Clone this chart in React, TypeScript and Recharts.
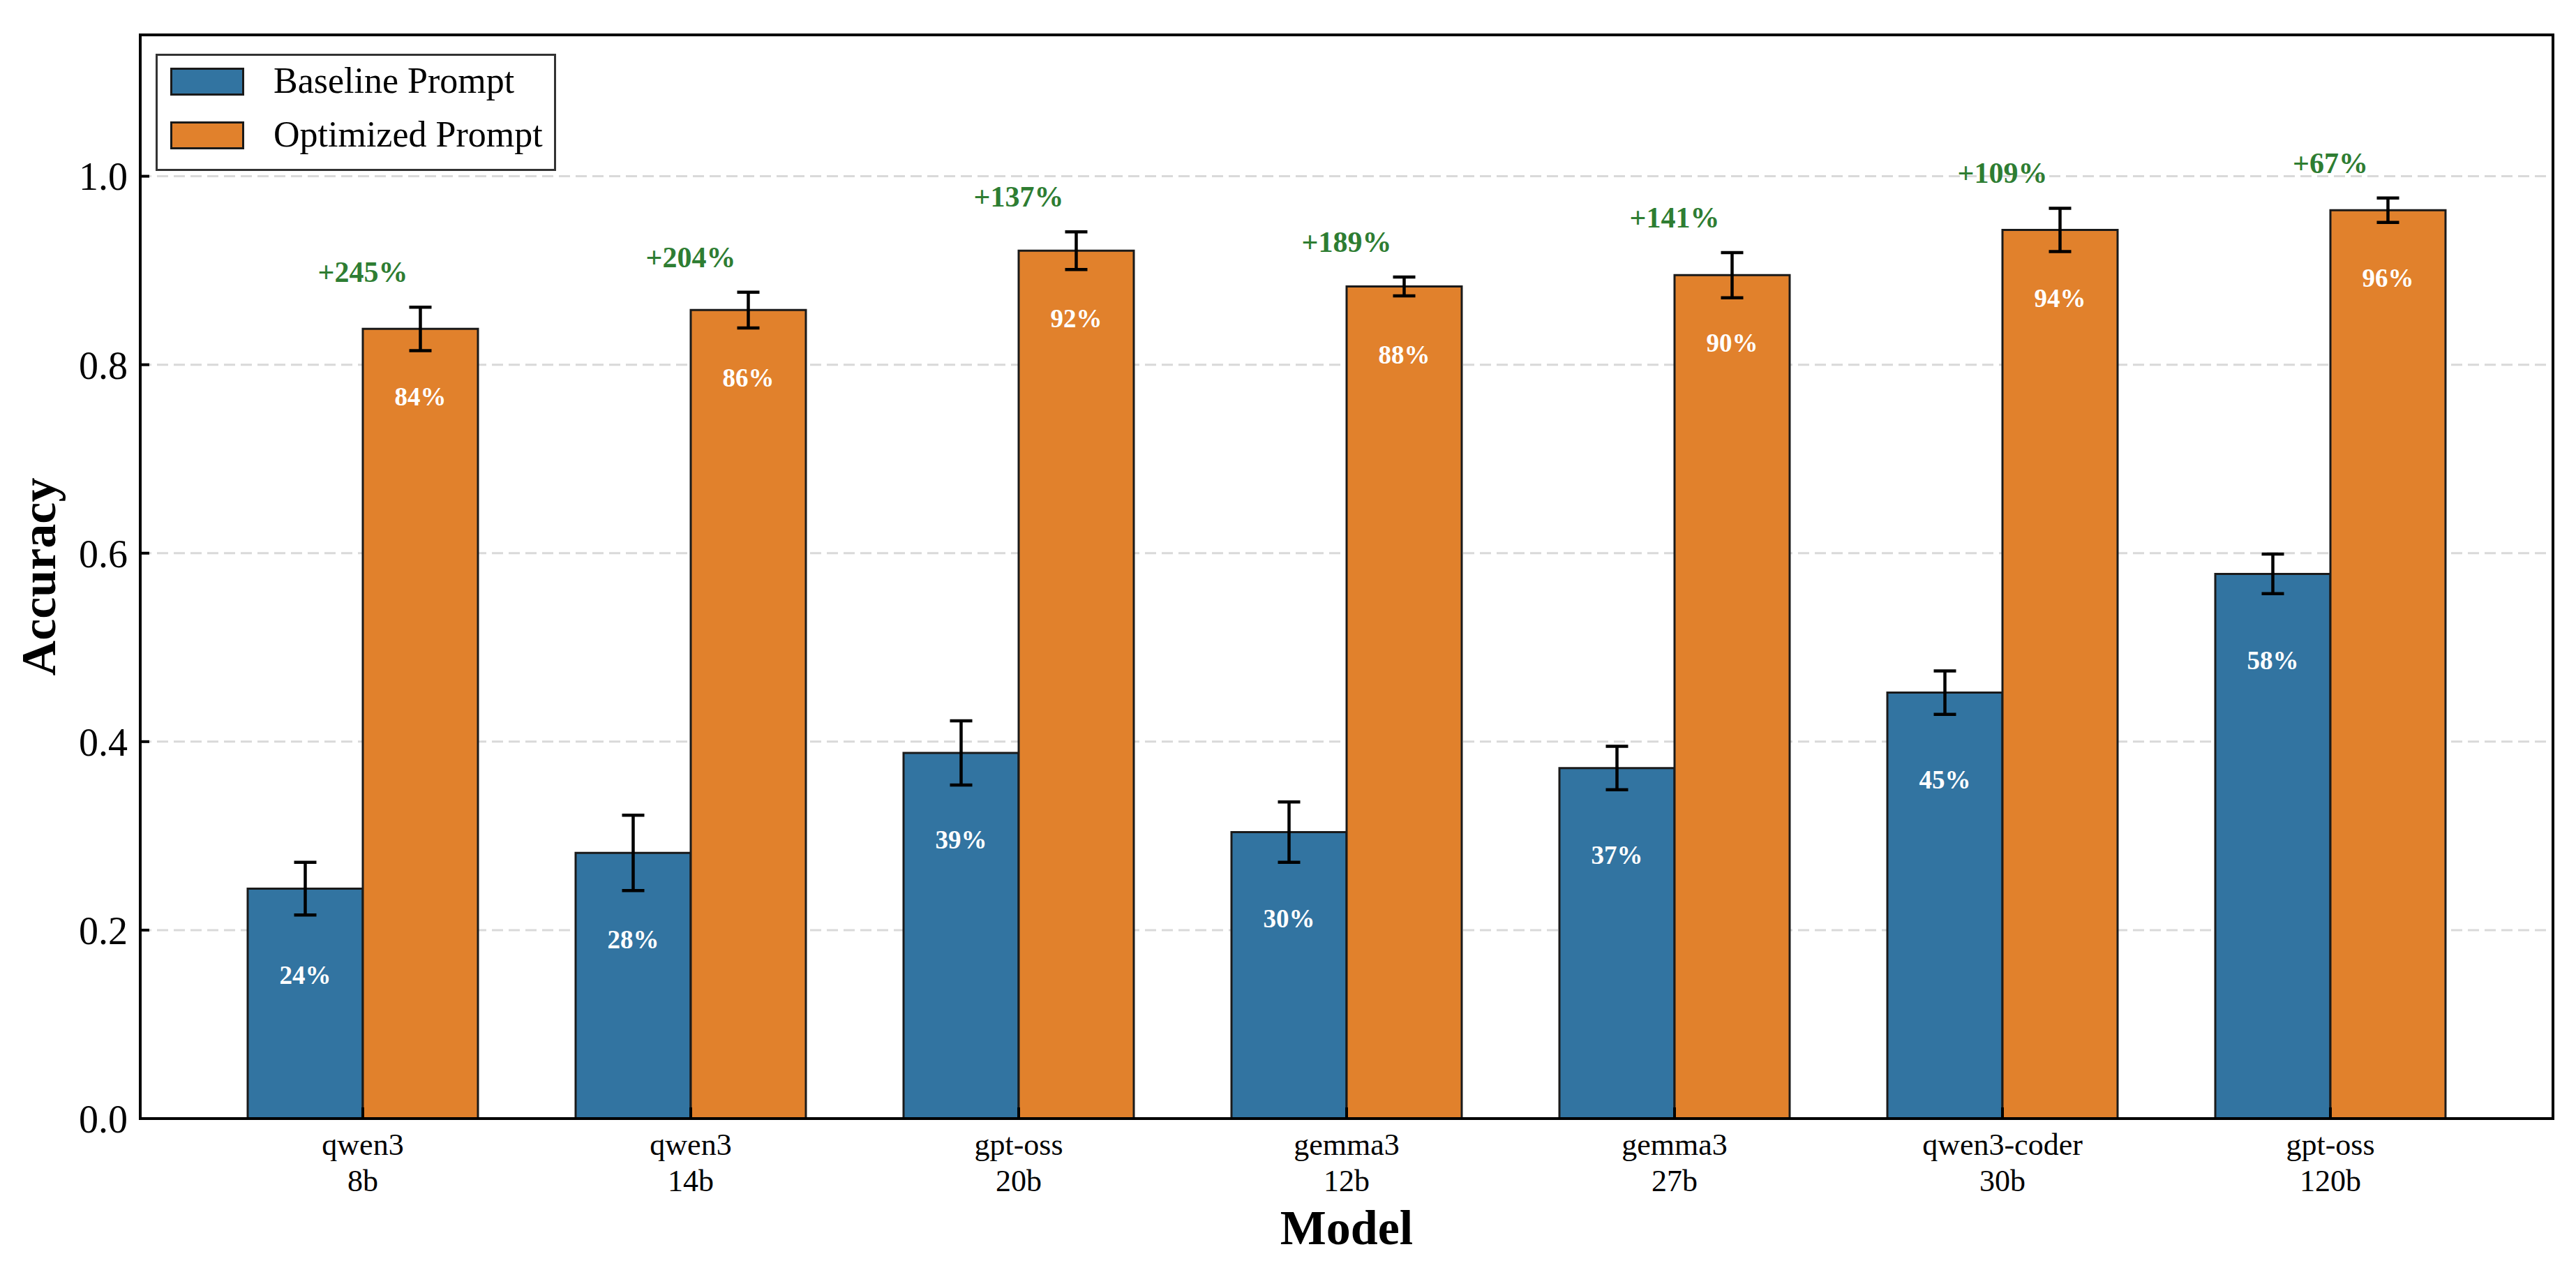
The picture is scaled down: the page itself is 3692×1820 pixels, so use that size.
import React from 'react';
import {
  BarChart,
  Bar,
  XAxis,
  YAxis,
  CartesianGrid,
  ErrorBar,
  LabelList,
  Legend,
} from 'recharts';

const categories = [
  'qwen3\n8b',
  'qwen3\n14b',
  'gpt-oss\n20b',
  'gemma3\n12b',
  'gemma3\n27b',
  'qwen3-coder\n30b',
  'gpt-oss\n120b',
];
const baseline = [0.244, 0.282, 0.388, 0.304, 0.372, 0.452, 0.578];
const baselineErr = [0.028, 0.04, 0.034, 0.032, 0.023, 0.023, 0.021];
const optimized = [0.838, 0.858, 0.921, 0.883, 0.895, 0.943, 0.964];
const optimizedErr = [0.023, 0.019, 0.02, 0.01, 0.024, 0.023, 0.013];
const gains = ['+245%', '+204%', '+137%', '+189%', '+141%', '+109%', '+67%'];
const yTicks = [0, 0.2, 0.4, 0.6, 0.8, 1.0];

const FONT = "'Times New Roman', 'Liberation Serif', Times, serif";
const BLUE = '#3274a1';
const ORANGE = '#e1812c';
const GREEN = '#2e7d32';
const EDGE = '#1a1a1a';

const data = categories.map((name, i) => ({
  name,
  baseline: baseline[i],
  baselineErr: baselineErr[i],
  optimized: optimized[i],
  optimizedErr: optimizedErr[i],
  gain: gains[i],
}));

const box = (props: any) => {
  const vb = props.viewBox || {};
  return {
    x: props.x ?? vb.x,
    y: props.y ?? vb.y,
    width: props.width ?? vb.width,
    height: props.height ?? vb.height,
  };
};

// white percentage inside the bar, a fixed distance under its top
const valueLabel = (offset: number) => (props: any) => {
  const { x, y, width } = box(props);
  return (
    <text
      x={x + width / 2}
      y={y + offset}
      textAnchor="middle"
      fill="#fff"
      fontWeight="bold"
      fontSize={37}
      fontFamily={FONT}
    >
      {`${Math.round(Number(props.value) * 100)}%`}
    </text>
  );
};

// green gain label over each pair, above the optimized error bar
const gainLabel = (props: any) => {
  const { x, y, height } = box(props);
  const i = props.index;
  const pxPerUnit = height / optimized[i];
  const errTop = y - optimizedErr[i] * pxPerUnit;
  return (
    <text
      x={x}
      y={errTop - 36}
      textAnchor="middle"
      fill={GREEN}
      fontWeight="bold"
      fontSize={42}
      fontFamily={FONT}
    >
      {props.value}
    </text>
  );
};

const CategoryTick = (props: any) => {
  const { x, y, payload } = props;
  const lines = String(payload.value).split('\n');
  return (
    <text x={x} y={y} textAnchor="middle" fill="#000" fontSize={44} fontFamily={FONT}>
      {lines.map((line, i) => (
        <tspan key={i} x={x} dy={52}>
          {line}
        </tspan>
      ))}
    </text>
  );
};

const LegendBox = () => {
  const items = [
    { label: 'Baseline Prompt', color: BLUE, top: 20 },
    { label: 'Optimized Prompt', color: ORANGE, top: 97 },
  ];
  return (
    <div
      style={{
        position: 'relative',
        width: 574,
        height: 168,
        boxSizing: 'border-box',
        border: '3px solid #333',
        background: '#fff',
        fontFamily: FONT,
      }}
    >
      {items.map((it) => (
        <div key={it.label}>
          <div
            style={{
              position: 'absolute',
              left: 18,
              top: it.top - 3,
              width: 106,
              height: 40,
              boxSizing: 'border-box',
              background: it.color,
              border: `3px solid ${EDGE}`,
            }}
          />
          <div
            style={{
              position: 'absolute',
              left: 166,
              top: it.top - 14,
              fontSize: 52,
              lineHeight: '60px',
              color: '#000',
              whiteSpace: 'nowrap',
            }}
          >
            {it.label}
          </div>
        </div>
      ))}
    </div>
  );
};

const axisLine = { stroke: '#000', strokeWidth: 4, strokeLinecap: 'square' as const };
const tickLine = { stroke: '#000', strokeWidth: 4 };

const App: React.FC = () => {
  return (
    <div style={{ position: 'absolute', left: 0, top: 0, background: '#fff' }}>
      <BarChart
        width={3692}
        height={1820}
        data={data}
        margin={{ top: 49, right: 32, bottom: 97, left: 81 }}
        barGap={0}
        style={{ fontFamily: FONT }}
      >
        <CartesianGrid
          vertical={false}
          stroke="#d9d9d9"
          strokeWidth={3}
          strokeDasharray="16 8"
        />
        <XAxis
          dataKey="name"
          height={120}
          padding={{ left: 84, right: 84 }}
          axisLine={axisLine}
          tickLine={tickLine}
          tickSize={-16}
          tickMargin={16}
          interval={0}
          tick={<CategoryTick />}
          label={(p: any) => {
            const vb = p.viewBox;
            return (
              <text
                x={vb.x + vb.width / 2}
                y={vb.y + 180}
                textAnchor="middle"
                fontWeight="bold"
                fontSize={70}
                fontFamily={FONT}
                fill="#000"
              >
                Model
              </text>
            );
          }}
        />
        <XAxis
          xAxisId="top"
          dataKey="name"
          orientation="top"
          height={1}
          padding={{ left: 84, right: 84 }}
          axisLine={axisLine}
          tickLine={tickLine}
          tickSize={-16}
          tick={false}
          interval={0}
        />
        <YAxis
          width={120}
          domain={[0, 1.15]}
          ticks={yTicks}
          allowDataOverflow
          axisLine={axisLine}
          tickLine={tickLine}
          tickSize={-13}
          tickMargin={31}
          tickFormatter={(v: number) => v.toFixed(1)}
          tick={{ fill: '#000', fontSize: 56, fontFamily: FONT }}
          label={(p: any) => {
            const vb = p.viewBox;
            return (
              <text
                transform={`translate(${vb.x - 2}, ${vb.y + vb.height / 2}) rotate(-90)`}
                textAnchor="middle"
                fontWeight="bold"
                fontSize={70}
                fontFamily={FONT}
                fill="#000"
              >
                Accuracy
              </text>
            );
          }}
        />
        <YAxis
          yAxisId="right"
          orientation="right"
          width={1}
          domain={[0, 1.15]}
          ticks={yTicks}
          allowDataOverflow
          axisLine={axisLine}
          tickLine={tickLine}
          tickSize={-13}
          tick={false}
        />
        <Legend
          layout="vertical"
          align="center"
          verticalAlign="middle"
          content={<LegendBox />}
          wrapperStyle={{ left: 223, top: 77, width: 574, height: 168 }}
        />
        <Bar
          dataKey="baseline"
          name="Baseline Prompt"
          fill={BLUE}
          stroke={EDGE}
          strokeWidth={3}
          barSize={165}
          isAnimationActive={false}
        >
          <ErrorBar dataKey="baselineErr" width={16} stroke="#000" strokeWidth={4.5} />
          <LabelList dataKey="baseline" content={valueLabel(137)} />
        </Bar>
        <Bar
          dataKey="optimized"
          name="Optimized Prompt"
          fill={ORANGE}
          stroke={EDGE}
          strokeWidth={3}
          barSize={165}
          isAnimationActive={false}
        >
          <ErrorBar dataKey="optimizedErr" width={16} stroke="#000" strokeWidth={4.5} />
          <LabelList dataKey="optimized" content={valueLabel(110)} />
          <LabelList dataKey="gain" content={gainLabel} />
        </Bar>
      </BarChart>
    </div>
  );
};

export default App;
